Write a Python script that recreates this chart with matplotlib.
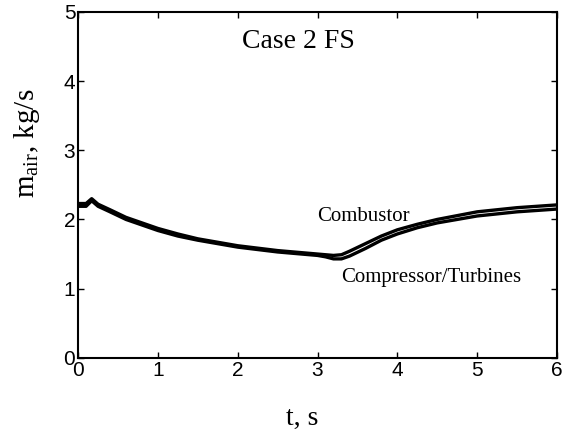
import numpy as np
import matplotlib
matplotlib.use("Agg")
import matplotlib.pyplot as plt

# time points, s
t = [0.0, 0.1, 0.17, 0.25, 0.4, 0.6, 0.8, 1.0, 1.25, 1.5, 1.75, 2.0, 2.5,
     3.0, 3.1, 3.2, 3.3, 3.4, 3.6, 3.8, 4.0, 4.25, 4.5, 5.0, 5.5, 6.0]

# air mass flow, kg/s
combustor = [2.23, 2.23, 2.30, 2.22, 2.14, 2.03, 1.95, 1.87, 1.79, 1.72,
             1.67, 1.62, 1.55, 1.50, 1.49, 1.48, 1.49, 1.54, 1.65, 1.76,
             1.85, 1.93, 2.00, 2.11, 2.17, 2.21]
comp_turb = [2.19, 2.19, 2.27, 2.19, 2.11, 2.00, 1.92, 1.84, 1.76, 1.70,
             1.65, 1.60, 1.53, 1.48, 1.46, 1.43, 1.43, 1.47, 1.58, 1.70,
             1.79, 1.88, 1.95, 2.05, 2.11, 2.15]

serif = "Liberation Serif"
sans = "Liberation Sans"

fig = plt.figure(figsize=(5.66, 4.38), dpi=100)
ax = fig.add_axes([0.138, 0.183, 0.846, 0.79])

ax.plot(t, combustor, color="black", lw=2.4, solid_joinstyle="round")
ax.plot(t, comp_turb, color="black", lw=2.4, solid_joinstyle="round")

ax.set_xlim(0, 6)
ax.set_ylim(0, 5)
ax.set_xticks(range(0, 7))
ax.set_yticks(range(0, 6))

for s in ax.spines.values():
    s.set_linewidth(1.5)
ax.tick_params(direction="in", length=4, width=1, top=True, right=True,
               labelsize=15, pad=2)
for lab in ax.get_xticklabels() + ax.get_yticklabels():
    lab.set_family(sans)

ax.set_xlabel("t, s", family=serif, fontsize=20)
ax.xaxis.set_label_coords(0.469, -0.14)
ax.set_ylabel(r"m$_{\mathregular{air}}$, kg/s", family=serif, fontsize=21)
ax.yaxis.set_label_coords(-0.075, 0.62)

ax.text(2.76, 4.57, "Case 2 FS", family=serif, fontsize=20,
        ha="center", va="center")
ax.text(3.0, 2.04, "Combustor", family=serif, fontsize=15,
        ha="left", va="center")
ax.text(3.29, 1.16, "Compressor/Turbines", family=serif, fontsize=15,
        ha="left", va="center")

fig.savefig("out.png", dpi=100)
